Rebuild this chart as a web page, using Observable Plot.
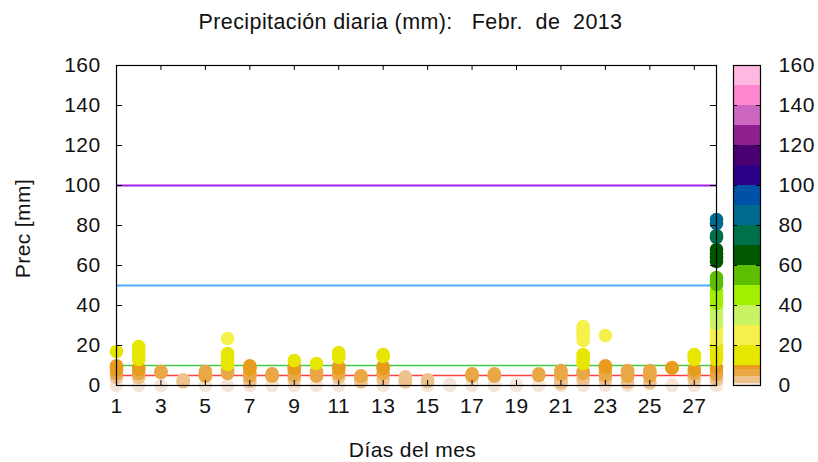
<!DOCTYPE html>
<html><head><meta charset="utf-8">
<script src="https://cdn.jsdelivr.net/npm/d3@7"></script>
<script src="https://cdn.jsdelivr.net/npm/@observablehq/plot@0.6"></script>
<style>
html,body{margin:0;padding:0;background:#fff;}
#wrap{position:relative;width:818px;height:462px;overflow:hidden;}
#wrap > svg{position:absolute;left:0;top:0;}
svg text{white-space:pre;letter-spacing:0.4px;}
</style></head><body><div id="wrap"></div>
<script>
// ---- data ----
const days = d3.range(1, 29);
const valuesByDay = [
  [17, 9.8, 9, 8, 6, 4, 0],
  [19.5, 17.5, 15.5, 13, 9, 8, 6, 4, 0],
  [7, 6.5, 0],
  [2.8, 2.3, 1.8],
  [7, 6, 5, 4.6, 0],
  [23.5, 16, 14, 12, 10.5, 7.5, 6, 0],
  [9.8, 9, 8.2, 6, 5, 4.6, 2, 0],
  [5.8, 5, 4.6, 0.5, 0],
  [12.5, 9.7, 9, 8.5, 7, 5, 3, 0],
  [11, 7, 6, 4.6, 0],
  [16.5, 15, 14, 9.5, 8.5, 6, 4, 0],
  [4.8, 4.6, 3, 1.8],
  [15.5, 14.5, 9.5, 8.5, 6, 3, 0],
  [4.3, 3.5, 2.5, 1.8],
  [2.8, 2, 0.5, 0],
  [0.7, 0.3, 0],
  [5.8, 5, 4.6, 0.5, 0],
  [5.8, 5, 4.6, 0.5, 0],
  [0.5, 0],
  [5.8, 5, 0.5, 0],
  [7.5, 6.5, 5.5, 4, 3, 2, 1.2, 0],
  [29.5, 27.5, 26, 24.5, 22.5, 15.5, 14, 12.5, 11, 7, 6, 3, 0.5, 0],
  [25, 9.8, 9, 7, 5, 3, 0.5, 0],
  [7.5, 6.5, 5.5, 4.6, 1.5, 0],
  [7.5, 6.5, 5, 4.6, 1.5, 0.8],
  [9, 8.6, 0.5, 0],
  [15.5, 14.5, 13, 8, 6, 4, 3, 0.5, 0],
  [83, 81, 75, 74, 68, 66, 64, 62, 54, 52, 50.5, 47, 45, 43, 41, 39, 37, 35, 33, 31, 29, 27.5, 26, 24.5, 23,
   19.5, 18, 16, 14.5, 13, 9, 7, 5.5, 3, 0.5, 0]
];
const xTicks = [1, 3, 5, 7, 9, 11, 13, 15, 17, 19, 21, 23, 25, 27];
const yTicks = [0, 20, 40, 60, 80, 100, 120, 140, 160];
const refLevels = [100, 50, 10, 5];
const refColors = ["#a020f0", "#50a8ff", "#44cc44", "#ff4040"];
const colorThresholds = [1, 4.5, 8, 10, 20, 30, 40, 50, 60, 70, 80, 90, 100, 110, 120, 130, 140, 150];
const colorRange = ["#f4e6d9", "#efc18c", "#e9a845", "#e79c1e", "#e6e600", "#f5f04a", "#c8f464", "#a0f000",
  "#5cc000", "#005800", "#00704a", "#006a90", "#0052a8", "#2c0088", "#4a0070", "#902090", "#cc66c0", "#ff88d0", "#ffb8e0"];
const titleText = "Precipitación diaria (mm):   Febr.  de  2013";
const xLabel = "Días del mes";
const yLabel = "Prec [mm]";

// ---- build ----
const points = [];
valuesByDay.forEach((vals, i) => vals.forEach(v => points.push({day: days[i], v})));
points.sort((a, b) => a.v - b.v);

const font = '"Liberation Sans", Arial, sans-serif';
const color = {type: "threshold", domain: colorThresholds, range: colorRange};
const fs = 21;

const main = Plot.plot({
  width: 818, height: 462,
  marginLeft: 116, marginRight: 102, marginTop: 65, marginBottom: 77,
  style: {fontFamily: font, fontSize: fs + "px", color: "#000", background: "#fff"},
  x: {domain: [1, 28]},
  y: {domain: [0, 160]},
  color,
  marks: [
    ...refLevels.map((v, i) => Plot.ruleY([v], {y: d => d, stroke: refColors[i], strokeWidth: i < 2 ? 2 : 1.6})),
    Plot.dot(points, {x: "day", y: "v", fill: "v", r: 6.8}),
    Plot.frame({stroke: "#000", strokeWidth: 1.2}),
    Plot.tickY(yTicks, {y: d => d, insetRight: 594, stroke: "#000"}),
    Plot.tickY(yTicks, {y: d => d, insetLeft: 594, stroke: "#000"}),
    Plot.tickX(xTicks, {x: d => d, insetTop: 315, stroke: "#000"}),
    Plot.tickX(xTicks, {x: d => d, insetBottom: 315, stroke: "#000"}),
    Plot.axisX(xTicks, {tickSize: 0, tickPadding: 13, fontSize: fs, label: null, fill: "#111"}),
    Plot.axisY(yTicks, {tickSize: 0, tickPadding: 16, fontSize: fs, label: null, fill: "#111"}),
    Plot.text([titleText], {frameAnchor: "top", lineAnchor: "middle", textAnchor: "middle", dy: -43, dx: -6, fontSize: 21.5, fill: "#111"}),
    Plot.text([xLabel], {frameAnchor: "bottom", lineAnchor: "middle", textAnchor: "middle", dy: 65, dx: -4, fontSize: fs, fill: "#111"}),
    Plot.text([yLabel], {frameAnchor: "left", lineAnchor: "middle", textAnchor: "middle", dx: -93, dy: 3, rotate: -90, fontSize: fs, fill: "#111"})
  ]
});

const cbEdges = [0, ...colorThresholds, 160];
const cbBands = d3.range(cbEdges.length - 1).map(i => ({lo: cbEdges[i], hi: cbEdges[i + 1]}));

const bar = Plot.plot({
  width: 818, height: 462,
  marginLeft: 733, marginRight: 58, marginTop: 65, marginBottom: 77,
  style: {fontFamily: font, fontSize: fs + "px", color: "#000", background: "transparent"},
  y: {domain: [0, 160]},
  color,
  marks: [
    Plot.rect(cbBands, {y1: "lo", y2: "hi", fill: "lo"}),
    Plot.frame({stroke: "#000", strokeWidth: 1.2}),
    Plot.tickY(yTicks, {y: d => d, insetRight: 23, stroke: "#000"}),
    Plot.tickY(yTicks, {y: d => d, insetLeft: 23, stroke: "#000"}),
    Plot.axisY(yTicks, {anchor: "right", tickSize: 0, tickPadding: 18, fontSize: fs, label: null, fill: "#111"})
  ]
});

document.getElementById("wrap").append(main, bar);
</script></body></html>
